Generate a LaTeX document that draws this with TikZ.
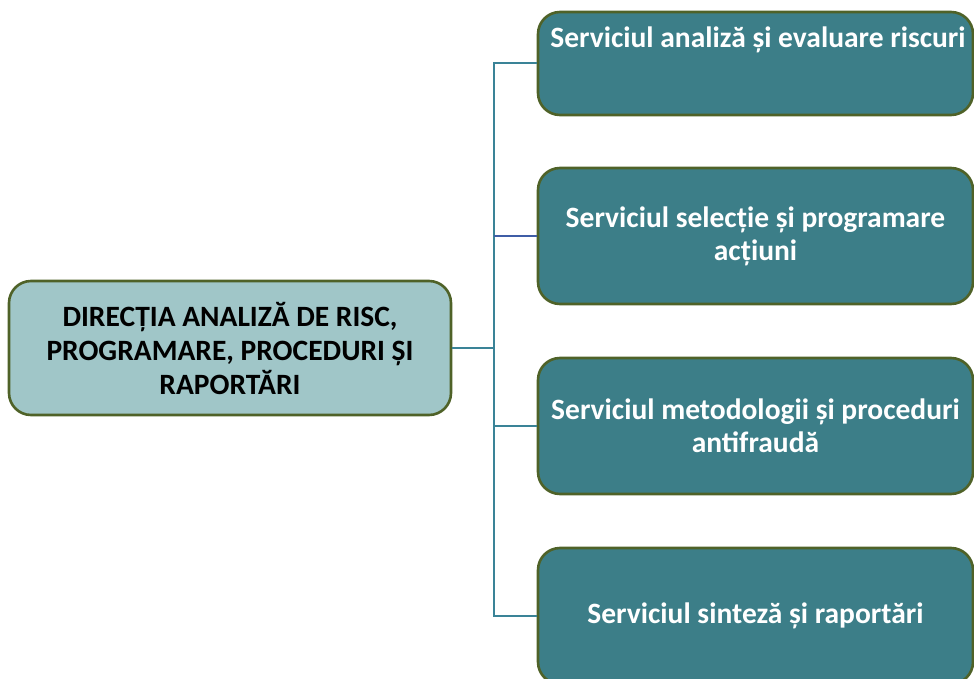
\documentclass[tikz,border=0pt]{standalone}
\usepackage{fontspec}
\setmainfont{Carlito}
\definecolor{boxedge}{HTML}{4F6228}
\definecolor{mainfill}{HTML}{A0C6C8}
\definecolor{svcfill}{HTML}{3C7E88}
\definecolor{linkteal}{HTML}{3A8397}
\definecolor{linkblue}{HTML}{3F5DA6}
\begin{document}
\begin{tikzpicture}[x=1pt,y=-1pt,
  unit/.style={draw=boxedge, line width=2.6pt, rounded corners=22pt, inner sep=0pt},
  svc/.style={unit, fill=svcfill, minimum width=435pt, minimum height=136pt},
  svctext/.style={text=white, font=\fontsize{29.5}{33}\selectfont\bfseries, align=center, inner sep=0pt},
  link/.style={draw=linkteal, line width=2pt},
  linkb/.style={draw=linkblue, line width=2pt}]
\useasboundingbox (0,0) rectangle (974,679);
\clip (0,0) rectangle (974,679);

% head unit
\node[unit, fill=mainfill, minimum width=442pt, minimum height=134pt,
      font=\fontsize{29.5}{34}\selectfont\bfseries, align=center] (main) at (230,348)
  {DIRECȚIA ANALIZĂ DE RISC,\\PROGRAMARE, PROCEDURI ȘI\\RAPORTĂRI};

% services
\node[svc, minimum height=103pt] (s1) at (755.5,63.5) {};
\node[svctext] (t1) at (758,40) {Serviciul analiză și evaluare riscuri};

\node[svc] (s2) at (755.5,236) {};
\node[svctext] (t2) at (s2.center) {Serviciul selecție și programare\\acțiuni};

\node[svc] (s3) at (755.5,426) {};
\node[svctext] (t3) at (s3.center) {Serviciul metodologii și proceduri\\antifraudă};

\node[svc] (s4) at (755.5,616) {};
\node[svctext] (t4) at (s4.center) {Serviciul sinteză și raportări};

% connectors
\coordinate (j) at (494,348);
\draw[link] (main.east) -- (j);
\draw[link] (j) |- (s1.west);
\draw[link] (j) |- (s4.west);
\draw[link] (j |- s3.west) -- (s3.west);
\draw[linkb] (j |- s2.west) -- (s2.west);
\end{tikzpicture}
\end{document}
